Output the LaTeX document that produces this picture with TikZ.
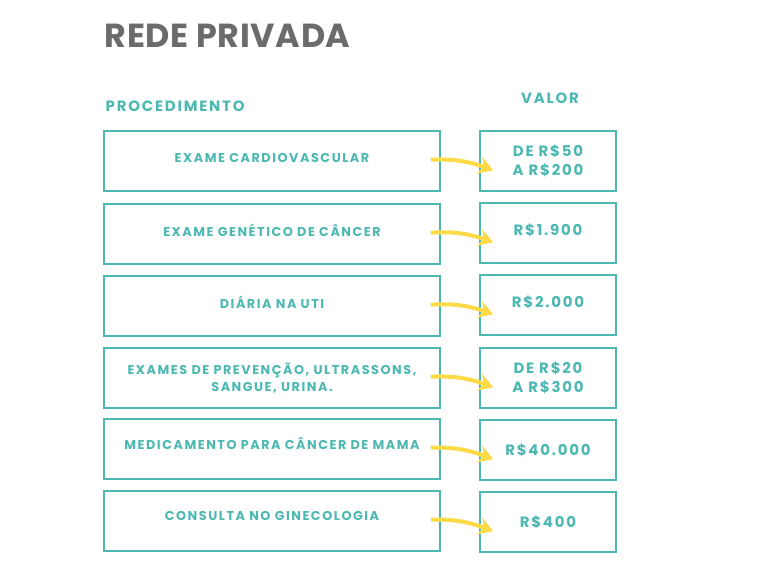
\documentclass[tikz,border=0pt]{standalone}
\usepackage{fontspec}
\setmainfont{Poppins}[UprightFont=* Bold,LetterSpace=12]
\newfontfamily\titlefont{Poppins}[UprightFont=* Bold,LetterSpace=2]
\usetikzlibrary{arrows.meta,bending}
\definecolor{tealbox}{HTML}{4DB8B2}
\definecolor{graytitle}{HTML}{6B6B6B}
\definecolor{yellowarr}{HTML}{FFDA47}
\tikzset{
  proc/.style={draw=tealbox,line width=2.2pt,minimum width=252pt,minimum height=45pt,
    text=tealbox,font=\fontsize{9.6}{12.5}\selectfont,align=center},
  val/.style={draw=tealbox,line width=2.2pt,minimum width=102pt,minimum height=45pt,
    text=tealbox,font=\fontsize{11.2}{14}\selectfont,align=center},
  head/.style={text=tealbox,font=\fontsize{11.2}{13}\selectfont},
  seta/.style={draw=yellowarr,line width=3pt,-{Stealth[length=11pt,width=13pt,bend]}}
}
\begin{document}
\begin{tikzpicture}[x=0.75pt,y=-0.75pt]
  \useasboundingbox (0,0) rectangle (768,576);
  \node[anchor=west,text=graytitle,font=\titlefont\fontsize{25}{27}\selectfont] (title) at (100,36) {REDE PRIVADA};
  \node[head,anchor=west] (hproc) at (101,106) {PROCEDIMENTO};
  \node[head] (hval) at (550,98) {VALOR};
  % linhas da tabela
  \node[proc] (p1) at (272,161) {EXAME CARDIOVASCULAR\rule[-5pt]{0pt}{0pt}};
  \node[val]  (v1) at (548,161) {DE R\$50\\A R\$200};
  \node[proc] (p2) at (272,234) {EXAME GENÉTICO DE CÂNCER\rule[-5pt]{0pt}{0pt}};
  \node[val]  (v2) at (548,233) {R\$1.900\rule[-5pt]{0pt}{0pt}};
  \node[proc] (p3) at (272,306) {DIÁRIA NA UTI\rule[-5pt]{0pt}{0pt}};
  \node[val]  (v3) at (548,305) {R\$2.000\rule[-5pt]{0pt}{0pt}};
  \node[proc] (p4) at (272,378) {EXAMES DE PREVENÇÃO, ULTRASSONS,\\SANGUE, URINA.};
  \node[val]  (v4) at (548,378) {DE R\$20\\A R\$300};
  \node[proc] (p5) at (272,449) {MEDICAMENTO PARA CÂNCER DE MAMA\rule[-8pt]{0pt}{0pt}};
  \node[val]  (v5) at (548,450) {R\$40.000};
  \node[proc] (p6) at (272,521) {CONSULTA NO GINECOLOGIA\rule[-8pt]{0pt}{0pt}};
  \node[val]  (v6) at (548,522) {R\$400};
  % setas
  \foreach \i in {1,...,6}
    \draw[seta] ([xshift=-8pt,yshift=1pt]p\i.east) to[bend left=12] ([xshift=11pt,yshift=-7pt]v\i.west);
\end{tikzpicture}
\end{document}
